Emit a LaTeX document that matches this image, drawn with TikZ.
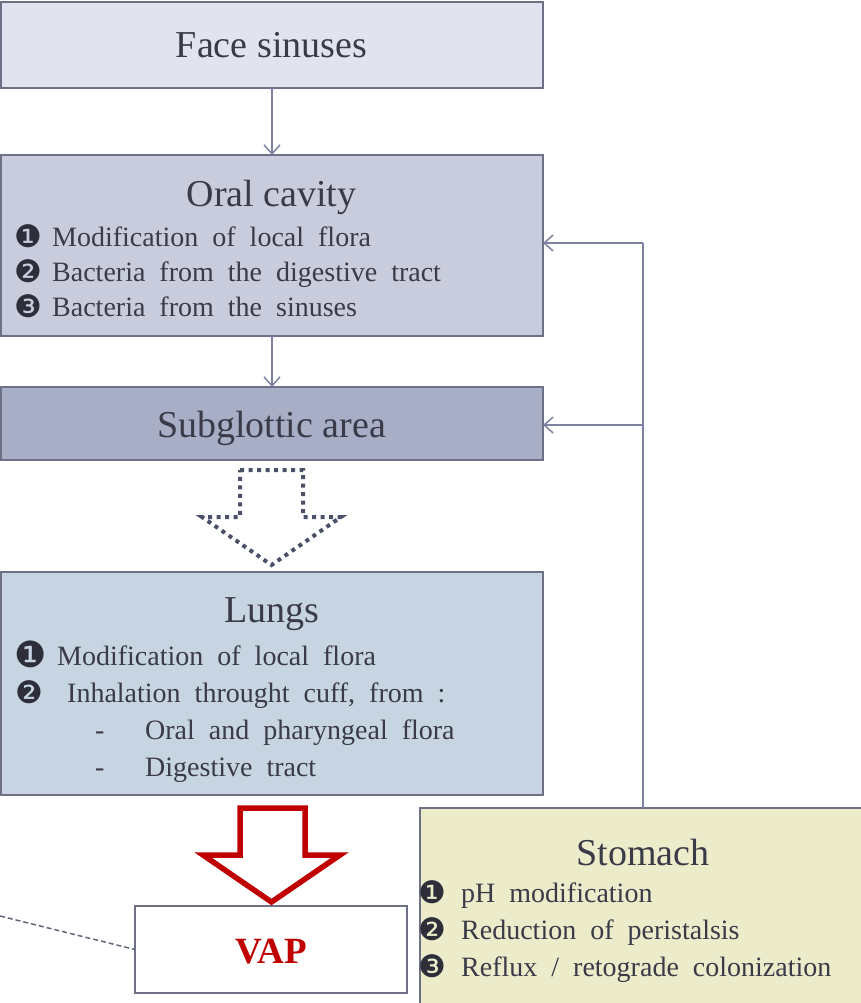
\documentclass[tikz,border=0pt]{standalone}
\usepackage{fontspec}
\setmainfont{Liberation Serif}
\newfontfamily\itemfont[WordSpace=2]{Liberation Serif}
\newfontfamily\dvfont{DejaVu Sans}
\usetikzlibrary{arrows.meta}
\definecolor{txt}{HTML}{3A3A48}
\definecolor{bord}{HTML}{6E7186}
\definecolor{conn}{HTML}{7D82A2}
\definecolor{facefill}{HTML}{E1E4EE}
\definecolor{oralfill}{HTML}{C9CCDC}
\definecolor{subfill}{HTML}{A9AEC7}
\definecolor{lungfill}{HTML}{C7D5E2}
\definecolor{stomfill}{HTML}{ECECCB}
\definecolor{dotarrow}{HTML}{4A5068}
\definecolor{vapred}{HTML}{C00000}
\tikzset{
  box/.style={draw=bord, line width=1.5pt, rectangle, inner sep=0pt, outer sep=0pt, anchor=north west},
  heading/.style={text=txt, font=\fontsize{38}{40}\selectfont, inner sep=0pt, anchor=base},
  itemtext/.style={text=txt, font=\itemfont\fontsize{28}{30}\selectfont, inner sep=0pt, anchor=base west},
  bul/.style={text=txt!80!black, font=\dvfont\fontsize{31}{32}\selectfont, inner sep=0pt, anchor=base west},
  conarrow/.style={draw=conn, line width=1.5pt, -{Straight Barb[length=9pt,width=16pt,line width=1.5pt]}},
}
\begin{document}
\begin{tikzpicture}[x=1pt,y=-1pt]
\useasboundingbox (0,0) rectangle (861,1003);
\clip (0,0) rectangle (861,1003);
% boxes
\node[box, fill=facefill, minimum width=542pt, minimum height=86pt] (face) at (1,2) {};
\node[box, fill=oralfill, minimum width=542pt, minimum height=181pt] (oral) at (1,155) {};
\node[box, fill=subfill, minimum width=542pt, minimum height=73pt] (sub) at (1,387) {};
\node[box, fill=lungfill, minimum width=542pt, minimum height=223pt] (lungs) at (1,572) {};
\node[box, fill=stomfill, minimum width=460pt, minimum height=220pt] (stom) at (420,808) {};
\node[box, fill=white, minimum width=272pt, minimum height=87pt] (vap) at (135,906) {};
% texts
\node[heading] (tface) at (271.5,58) {Face sinuses};
\node[heading] (toral) at (271.5,206) {Oral cavity};
\node[bul] (ob1) at (14,247) {❶};
\node[itemtext] (o1) at (52,246) {Modification of local flora};
\node[bul] (ob2) at (14,282) {❷};
\node[itemtext] (o2) at (52,281) {Bacteria from the digestive tract};
\node[bul] (ob3) at (14,317) {❸};
\node[itemtext] (o3) at (52,316) {Bacteria from the sinuses};
\node[heading] (tsub) at (271.5,437) {Subglottic area};
\node[heading] (tlungs) at (271.5,622) {Lungs};
\node[bul, font=\dvfont\fontsize{36}{36}\selectfont] (lb1) at (14,667) {❶};
\node[itemtext] (l1) at (57,665) {Modification of local flora};
\node[bul] (lb2) at (15,703) {❷};
\node[itemtext] (l2) at (67,702) {Inhalation throught cuff, from :};
\node[itemtext] (ld1) at (95,739) {-};
\node[itemtext] (l3) at (145,739) {Oral and pharyngeal flora};
\node[itemtext] (ld2) at (95,776) {-};
\node[itemtext] (l4) at (145,776) {Digestive tract};
\node[heading] (tstom) at (643,865) {Stomach};
\node[bul] (sb1) at (418,903) {❶};
\node[itemtext] (s1) at (461,902) {pH modification};
\node[bul] (sb2) at (418,940) {❷};
\node[itemtext] (s2) at (461,939) {Reduction of peristalsis};
\node[bul] (sb3) at (418,977) {❸};
\node[itemtext] (s3) at (461,976) {Reflux / retograde colonization};
\node[text=vapred, font=\bfseries\fontsize{37}{38}\selectfont, inner sep=0pt, anchor=base] (tvap) at (271,963) {VAP};
% connectors
\draw[conarrow] (face.south) -- (oral.north);
\draw[conarrow] (oral.south) -- (sub.north);
\coordinate (fbtop) at (643,243);
\coordinate (fbmid) at (643,425);
\draw[draw=conn, line width=1.5pt] (stom.north -| fbtop) -- (fbtop);
\draw[conarrow] (fbtop) -- (fbtop -| oral.east);
\draw[conarrow] (fbmid) -- (fbmid -| sub.east);
% dotted hollow arrow
\draw[draw=dotarrow, line width=4pt, dash pattern=on 4pt off 4.5pt, line join=miter]
  (240,470) -- (303,470) -- (303,517) -- (341,517) -- (271.5,565) -- (202,517) -- (240,517) -- cycle;
% red hollow arrow
\draw[draw=vapred, line width=5.5pt, fill=white, line join=miter, miter limit=10]
  (240,808) -- (305,808) -- (305,855) -- (340,855) -- (271.5,902) -- (203,855) -- (240,855) -- cycle;
% dashed line to VAP
\coordinate (dfree) at (0,916);
\draw[draw=bord!90!black, line width=1.5pt, dash pattern=on 5pt off 3pt] (dfree) -- (vap.west);
\end{tikzpicture}
\end{document}
